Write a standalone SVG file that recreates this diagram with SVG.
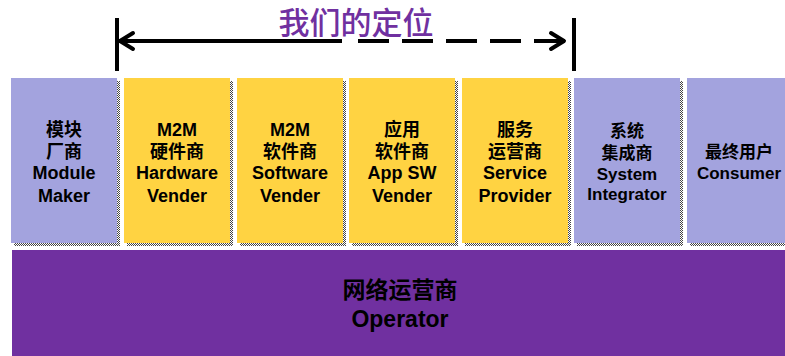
<svg xmlns="http://www.w3.org/2000/svg" width="785" height="356" viewBox="0 0 785 356">
<defs>
<pattern id="chk" width="2" height="2" patternUnits="userSpaceOnUse">
<rect width="2" height="2" fill="#ffffff"/>
<rect width="1" height="1" fill="#444"/>
<rect x="1" y="1" width="1" height="1" fill="#444"/>
</pattern>
</defs>
<style>
.shadow{fill:url(#chk);}
.lav{fill:#A3A3DE;}
.yel{fill:#FFD342;}
.t{font-family:"Liberation Sans","Noto Sans CJK SC",sans-serif;font-weight:bold;font-size:18px;fill:#000;text-anchor:middle;}
.ts{font-size:17px;}
.ln{stroke:#000;stroke-width:4;fill:none;}
</style>
<rect width="785" height="356" fill="#ffffff"/>

<g id="title">
<text x="356" y="34" font-family="Noto Sans CJK SC, sans-serif" font-weight="500" font-size="31" fill="#7030A0" text-anchor="middle">我们的定位</text>
</g>

<g id="connectors">
<line class="ln" x1="117" y1="18" x2="117" y2="71"/>
<line class="ln" x1="574" y1="18" x2="574" y2="71"/>
<line class="ln" x1="119" y1="41" x2="342" y2="41"/>
<path class="ln" d="M358 41 H565" stroke-dasharray="31 13"/>
<path class="ln" d="M133 33 L120 41 L133 49" stroke-linecap="round" stroke-linejoin="round"/>
<path class="ln" d="M551 33 L564 41 L551 49" stroke-linecap="round" stroke-linejoin="round"/>
</g>

<g id="module-maker">
<rect class="shadow" x="14" y="81" width="106" height="165"/>
<rect class="lav" x="11" y="78" width="106" height="165"/>
<text class="t"><tspan x="64" y="136">模块</tspan><tspan x="64" y="158">厂商</tspan><tspan x="64" y="179">Module</tspan><tspan x="64" y="202">Maker</tspan></text>
</g>

<g id="hardware-vender">
<rect class="shadow" x="127" y="81" width="106" height="165"/>
<rect class="yel" x="124" y="78" width="106" height="165"/>
<text class="t"><tspan x="177" y="136">M2M</tspan><tspan x="177" y="158">硬件商</tspan><tspan x="177" y="179">Hardware</tspan><tspan x="177" y="202">Vender</tspan></text>
</g>

<g id="software-vender">
<rect class="shadow" x="240" y="81" width="106" height="165"/>
<rect class="yel" x="237" y="78" width="106" height="165"/>
<text class="t"><tspan x="290" y="136">M2M</tspan><tspan x="290" y="158">软件商</tspan><tspan x="290" y="179">Software</tspan><tspan x="290" y="202">Vender</tspan></text>
</g>

<g id="app-sw-vender">
<rect class="shadow" x="352" y="81" width="106" height="165"/>
<rect class="yel" x="349" y="78" width="106" height="165"/>
<text class="t"><tspan x="402" y="136">应用</tspan><tspan x="402" y="158">软件商</tspan><tspan x="402" y="179">App SW</tspan><tspan x="402" y="202">Vender</tspan></text>
</g>

<g id="service-provider">
<rect class="shadow" x="465" y="81" width="106" height="165"/>
<rect class="yel" x="462" y="78" width="106" height="165"/>
<text class="t"><tspan x="515" y="136">服务</tspan><tspan x="515" y="158">运营商</tspan><tspan x="515" y="179">Service</tspan><tspan x="515" y="202">Provider</tspan></text>
</g>

<g id="system-integrator">
<rect class="shadow" x="577" y="81" width="106" height="165"/>
<rect class="lav" x="574" y="78" width="106" height="165"/>
<text class="t ts"><tspan x="627" y="137">系统</tspan><tspan x="627" y="159">集成商</tspan><tspan x="627" y="180">System</tspan><tspan x="627" y="200">Integrator</tspan></text>
</g>

<g id="consumer">
<rect class="shadow" x="690" y="81" width="106" height="165"/>
<rect class="lav" x="687" y="78" width="106" height="165"/>
<text class="t ts"><tspan x="739" y="158">最终用户</tspan><tspan x="739" y="179">Consumer</tspan></text>
</g>

<g id="operator">
<rect x="12" y="250" width="773" height="106" fill="#7030A0"/>
<text class="t" style="font-size:23px"><tspan x="400" y="298">网络运营商</tspan><tspan x="400" y="327">Operator</tspan></text>
</g>
</svg>
